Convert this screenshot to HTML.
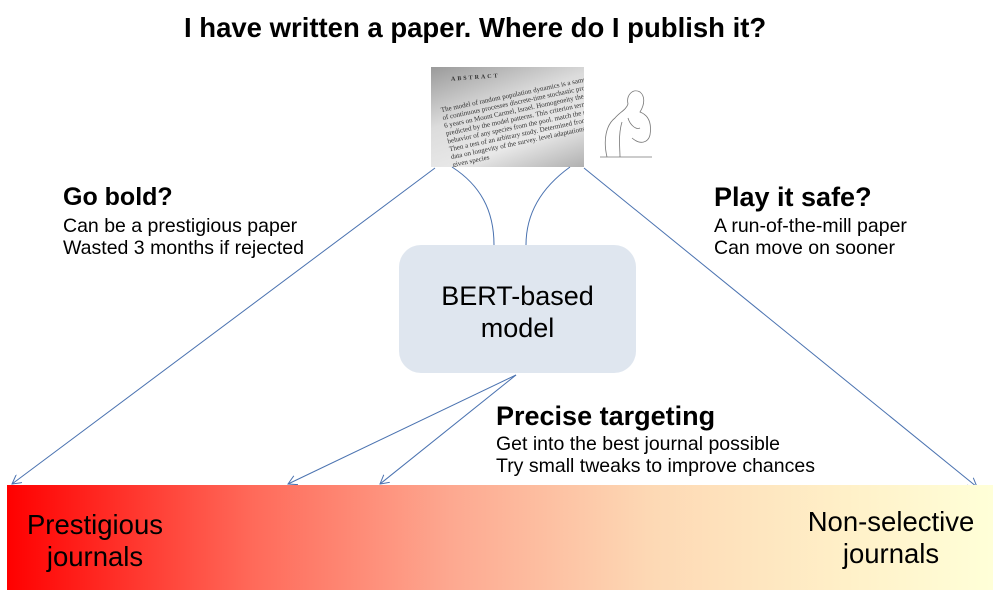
<!DOCTYPE html>
<html><head><meta charset="utf-8"><style>
body{margin:0;width:1000px;height:593px;background:#fff;position:relative;overflow:hidden;font-family:"Liberation Sans",Arial,sans-serif;color:#000}
.t{position:absolute;white-space:nowrap}
.h{font-weight:bold;font-size:27px}
.s{font-size:19.5px;line-height:22px}
</style></head><body>
<div class="t" style="left:184px;top:12px;font-size:27.5px;font-weight:bold">I have written a paper. Where do I publish it?</div>
<div style="position:absolute;left:431px;top:67px;width:153px;height:100px;background:linear-gradient(160deg,#9a9a9a,#dcdcdc 40%,#e8e8e8 70%,#b0b0b0);overflow:hidden">
<div style="position:absolute;left:20px;top:8px;font:bold 6px 'Liberation Serif';letter-spacing:2px;color:#333;transform:rotate(-4deg)">ABSTRACT</div>
<div style="position:absolute;left:14px;top:22px;width:160px;font:7px/8px 'Liberation Serif';color:#333;transform:rotate(-12deg)">The model of random population dynamics is a sampling of continuous processes discrete-time stochastic process 6 years on Mount Carmel, Israel. Homogeneity the predicted by the model patterns. This criterion term behavior of any species from the pool. match the model. Then a test of an arbitrary study. Determined from field data on longevity of the survey. level adaptations of given species</div>
</div>
<svg width="1000" height="593" style="position:absolute;left:0;top:0">
<defs><marker id="a" markerWidth="10" markerHeight="10" refX="9" refY="5" orient="auto" markerUnits="userSpaceOnUse"><path d="M0,0 L9,5 L0,10" fill="none" stroke="#4a72b0" stroke-width="1"/></marker></defs>
<g fill="none" stroke="#4a72b0" stroke-width="1">
<path d="M435,168 L12,484" marker-end="url(#a)"/>
<path d="M584,168 L977,487" marker-end="url(#a)"/>
<path d="M452,167 C480,185 494,210 494,245"/>
<path d="M570,167 C545,185 526,210 526,245"/>
<path d="M516,375 L288,484" marker-end="url(#a)"/>
<path d="M516,375 L380,484" marker-end="url(#a)"/>
</g>
<g fill="none" stroke="#777" stroke-width="0.8">
<path d="M607,157 C603,140 606,125 615,118 C620,112 626,110 628,104 C626,95 633,88 640,92 C645,96 645,104 640,112 C648,115 652,122 650,135 C648,143 640,145 632,138 M628,118 C630,125 636,130 640,128 M622,122 C618,135 620,148 620,157 M600,157 L652,157"/>
</g>
</svg>
<div style="position:absolute;left:399px;top:245px;width:237px;height:128px;border-radius:22px;background:#dfe6ef"></div>
<div class="t" style="left:399px;top:280px;width:237px;text-align:center;font-size:27px;line-height:32px">BERT-based<br>model</div>
<div class="t h" style="left:63px;top:183px;font-size:25px">Go bold?</div>
<div class="t s" style="left:63px;top:215px">Can be a prestigious paper<br>Wasted 3 months if rejected</div>
<div class="t h" style="left:714px;top:182px">Play it safe?</div>
<div class="t s" style="left:714px;top:215px">A run-of-the-mill paper<br>Can move on sooner</div>
<div class="t h" style="left:496px;top:401px">Precise targeting</div>
<div class="t s" style="left:496px;top:433px">Get into the best journal possible<br>Try small tweaks to improve chances</div>
<div style="position:absolute;left:7px;top:485px;width:986px;height:105px;background:linear-gradient(90deg,#ff0000 0%,#ff6a5a 25%,#fda890 45%,#fdd8b4 65%,#fff0c8 85%,#ffffd8 100%)"></div>
<div class="t" style="left:15px;top:509px;width:160px;font-size:27.5px;line-height:32px;text-align:center">Prestigious<br>journals</div>
<div class="t" style="left:791px;top:506px;width:200px;font-size:27.5px;line-height:32px;text-align:center">Non-selective<br>journals</div>
</body></html>
